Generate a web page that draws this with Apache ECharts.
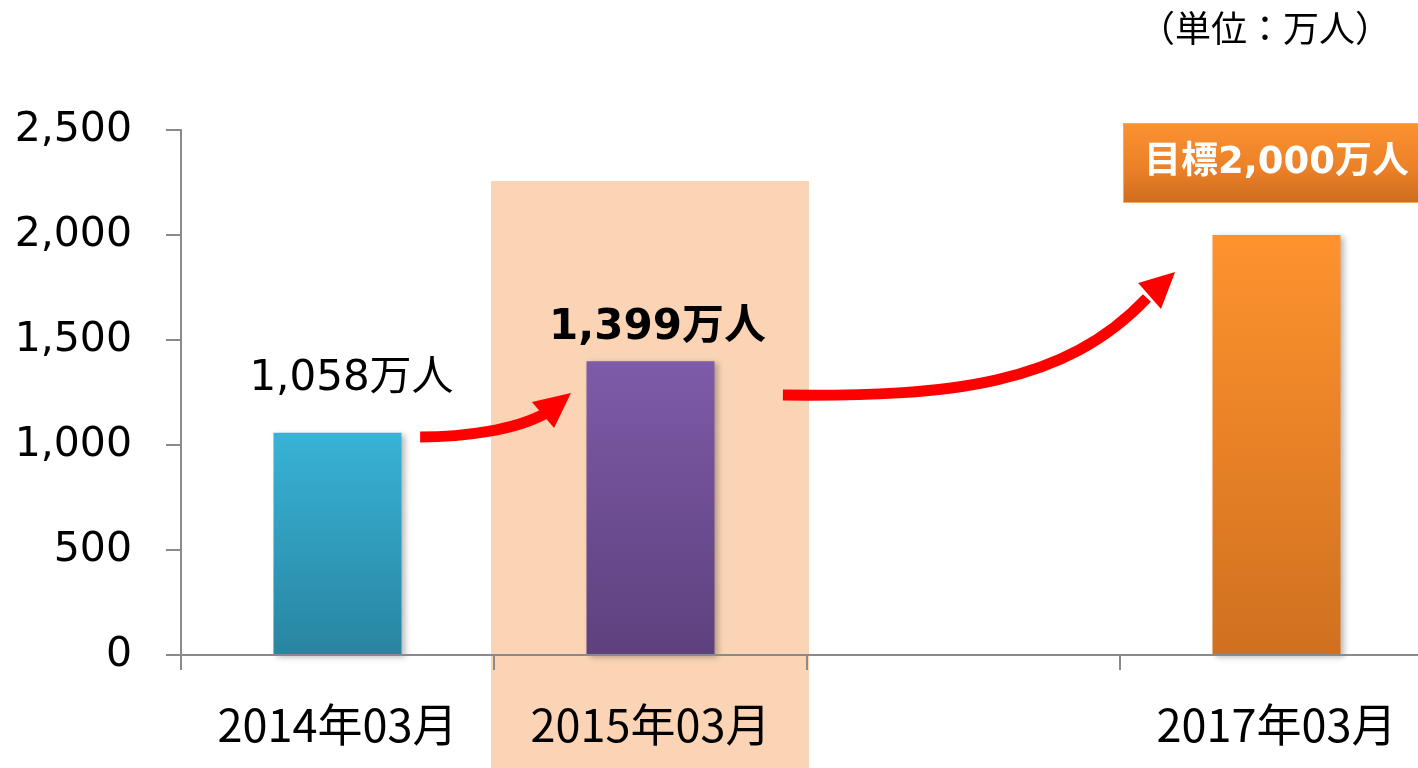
<!DOCTYPE html>
<html><head><meta charset="utf-8">
<script src="https://cdn.jsdelivr.net/npm/echarts@6/dist/echarts.min.js"></script>
<style>html,body{margin:0;padding:0;background:#fff}#c{width:1418px;height:768px}</style>
</head><body><div id="c"></div>
<script>
// ---- data ----
const categories = ['2014年03月', '2015年03月', '', '2017年03月'];
const values = [1058, 1399, null, 2000];
const labelPrefix = ['', '', '', '目標'];
const unitSuffix = '万人';
const yTicks = [0, 500, 1000, 1500, 2000, 2500];
const highlightCategory = 1;
const highlightTop = 2257;
const unitNote = '（単位：万人）';
// arrow annotations in data space: [category position, value]
const arrow1Curve = [[0.264, 1038], [0.407, 1038], [0.567, 1071], [0.666, 1152]];
const arrow1Head = [[0.746, 1248], [0.621, 1205], [0.692, 1081]];
const arrow2Curve = [[1.423, 1238], [1.957, 1229], [2.324, 1286], [2.586, 1700]];
const arrow2Head = [[2.676, 1824], [2.558, 1771], [2.631, 1648]];
const arrows = [{curve: arrow1Curve, head: arrow1Head}, {curve: arrow2Curve, head: arrow2Head}];

// ---- styles ----
const G = echarts.graphic.LinearGradient;
const barFills = [
  new G(0, 0, 0, 1, [{offset: 0, color: '#38B3D6'}, {offset: 1, color: '#2885A1'}]),
  new G(0, 0, 0, 1, [{offset: 0, color: '#7E5BA8'}, {offset: 1, color: '#5E407E'}]),
  null,
  new G(0, 0, 0, 1, [{offset: 0, color: '#FE932E'}, {offset: 1, color: '#D0701F'}])
];
const latin = 'DejaVu Sans, Noto Sans CJK JP, sans-serif';
const cjk = 'Noto Sans CJK JP, sans-serif';
const labelStyles = [
  {show: true, position: 'top', distance: 33, offset: [14, 0], fontSize: 42, color: '#000', fontFamily: latin},
  {show: true, position: 'top', distance: 12, offset: [7, 0], fontSize: 42, fontWeight: 'bold', color: '#000', fontFamily: latin},
  {show: false},
  {show: true, position: 'top', distance: 33, fontSize: 37, fontWeight: 'bold', color: '#fff', fontFamily: latin,
   lineHeight: 40, padding: [19, 20],
   backgroundColor: new G(0, 0, 0, 1, [{offset: 0, color: '#FB9231'}, {offset: 0.55, color: '#EC8128'}, {offset: 1, color: '#CF6C1E'}]),
   borderColor: '#F7A864', borderWidth: 1}
];
const fmt = v => v.toLocaleString('en-US');

const barData = values.map((v, i) => v == null ? null : ({
  value: v,
  itemStyle: {color: barFills[i], shadowBlur: 6, shadowOffsetX: 3, shadowOffsetY: 2, shadowColor: 'rgba(0,0,0,0.28)'},
  label: Object.assign({formatter: labelPrefix[i] + fmt(v) + unitSuffix}, labelStyles[i])
}));

const chart = echarts.init(document.getElementById('c'));
chart.setOption({
  animation: false,
  backgroundColor: '#fff',
  title: {text: unitNote, right: 22, top: 5, textStyle: {fontSize: 36, fontWeight: 'normal', color: '#000', fontFamily: cjk}},
  grid: {left: 181, top: 130, right: -15, bottom: 113, containLabel: false, outerBoundsMode: 'none'},
  xAxis: {
    type: 'category', data: categories, z: 3,
    axisLine: {lineStyle: {color: '#8A8A8A', width: 2}},
    axisTick: {show: true, length: 15, interval: 0, lineStyle: {color: '#8A8A8A', width: 2}},
    axisLabel: {margin: 47, fontSize: 45, color: '#000', fontFamily: cjk, interval: 0}
  },
  yAxis: {
    type: 'value', min: yTicks[0], max: yTicks[yTicks.length - 1], interval: yTicks[1] - yTicks[0], z: 3,
    axisLine: {show: true, lineStyle: {color: '#8A8A8A', width: 2}},
    axisTick: {show: true, length: 15, lineStyle: {color: '#8A8A8A', width: 2}},
    splitLine: {show: false},
    axisLabel: {margin: 49, fontSize: 41, color: '#000', fontFamily: latin, padding: [0, 0, 12, 0], formatter: v => fmt(v)}
  },
  series: [
    {
      type: 'custom', z: 1, clip: false, silent: true,
      data: [[highlightCategory, highlightTop]],
      renderItem: (params, api) => {
        const c = api.coord([api.value(0), api.value(1)]);
        const band = api.size([1, 0])[0];
        return {type: 'rect', shape: {x: c[0] - band / 2 - 3, y: c[1], width: band + 5, height: api.getHeight() - c[1]},
                style: {fill: '#FAD4B4'}};
      }
    },
    {
      type: 'bar', z: 2, barWidth: 128, data: barData
    },
    {
      type: 'custom', z: 5, clip: false, silent: true,
      data: arrows.map(a => [0, a.curve[0][1]]),
      renderItem: (params, api) => {
        const a = arrows[params.dataIndex];
        const x0 = api.coord([0, 0])[0];
        const band = api.size([1, 0])[0];
        const P = p => [x0 + p[0] * band, api.coord([0, p[1]])[1]];
        const c = a.curve.map(P);
        const h = a.head.map(P);
        return {type: 'group', children: [
          {type: 'bezierCurve', shape: {x1: c[0][0], y1: c[0][1], cpx1: c[1][0], cpy1: c[1][1], cpx2: c[2][0], cpy2: c[2][1], x2: c[3][0], y2: c[3][1]},
           style: {stroke: '#FF0000', lineWidth: 11, fill: null, lineCap: 'butt'}},
          {type: 'polygon', shape: {points: h}, style: {fill: '#FF0000'}}
        ]};
      }
    }
  ]
});
</script></body></html>
